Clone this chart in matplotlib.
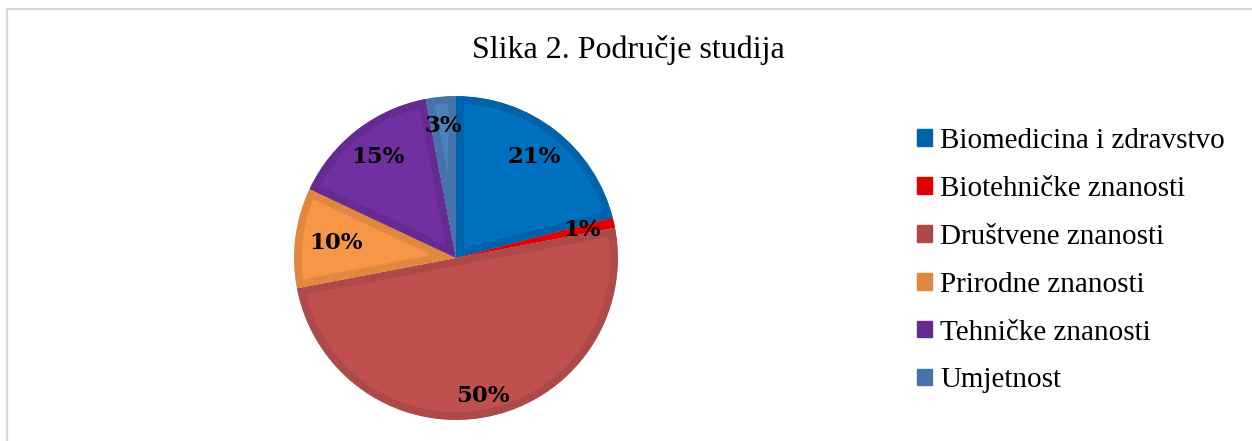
import matplotlib.pyplot as plt
from matplotlib.patches import Patch, Rectangle

categories = ["Biomedicina i zdravstvo", "Biotehničke znanosti", "Društvene znanosti",
              "Prirodne znanosti", "Tehničke znanosti", "Umjetnost"]
shares = [21, 1, 50, 10, 15, 3]
label_dist = [0.79, 0.80, 0.87, 0.75, 0.79, 0.82]

fill_colors = ["#0070C0", "#FF0000", "#C0504D", "#F79646", "#7030A0", "#4F81BD"]
edge_colors = ["#0063AA", "#E00000", "#AD4946", "#E0883F", "#662B91", "#4673A9"]

fig = plt.figure(figsize=(12.52, 4.41), dpi=100)

# light grey chart frame (right/bottom edges are cut off in the original)
fig.patches.append(Rectangle((6.5 / 1252, -0.1), 1.2, (441 - 8.5) / 441 + 0.1,
                             transform=fig.transFigure, fill=False,
                             edgecolor="#D9D9D9", linewidth=1.6))

ax = fig.add_axes([286 / 1252, 13 / 441, 340 / 1252, 340 / 441])
wedges, texts, autotexts = ax.pie(shares, colors=fill_colors, startangle=90,
                                  counterclock=False, radius=1,
                                  autopct="%d%%", pctdistance=0.8,
                                  wedgeprops=dict(linewidth=11))
# inner border only: clip each wedge's stroke to the wedge itself
for w, ec in zip(wedges, edge_colors):
    w.set_edgecolor(ec)
    w.set_joinstyle("round")
    w.set_clip_on(True)
    w.set_clip_path(w)
for t, d in zip(autotexts, label_dist):
    x, y = t.get_position()
    t.set_position((x / 0.8 * d, y / 0.8 * d))
    t.set_fontfamily("DejaVu Serif")
    t.set_fontweight("bold")
    t.set_fontsize(16.5)
    t.set_color("black")
ax.set_xlim(-1.05, 1.05)
ax.set_ylim(-1.05, 1.05)
ax.set_aspect("equal")
ax.axis("off")

fig.text(628 / 1252, 1 - 50 / 441, "Slika 2. Područje studija", ha="center", va="center",
         fontfamily="Liberation Serif", fontsize=23)

handles = [Patch(facecolor=ec, edgecolor=ec) for ec in edge_colors]
fig.legend(handles, categories, loc="upper left", bbox_to_anchor=(917 / 1252, 1 - 128 / 441),
           frameon=False, prop=dict(family="Liberation Serif", size=21),
           handlelength=0.5, handleheight=0.5, handletextpad=0.3,
           labelspacing=0.75, borderaxespad=0, borderpad=0)

fig.savefig("out.png", dpi=100)
